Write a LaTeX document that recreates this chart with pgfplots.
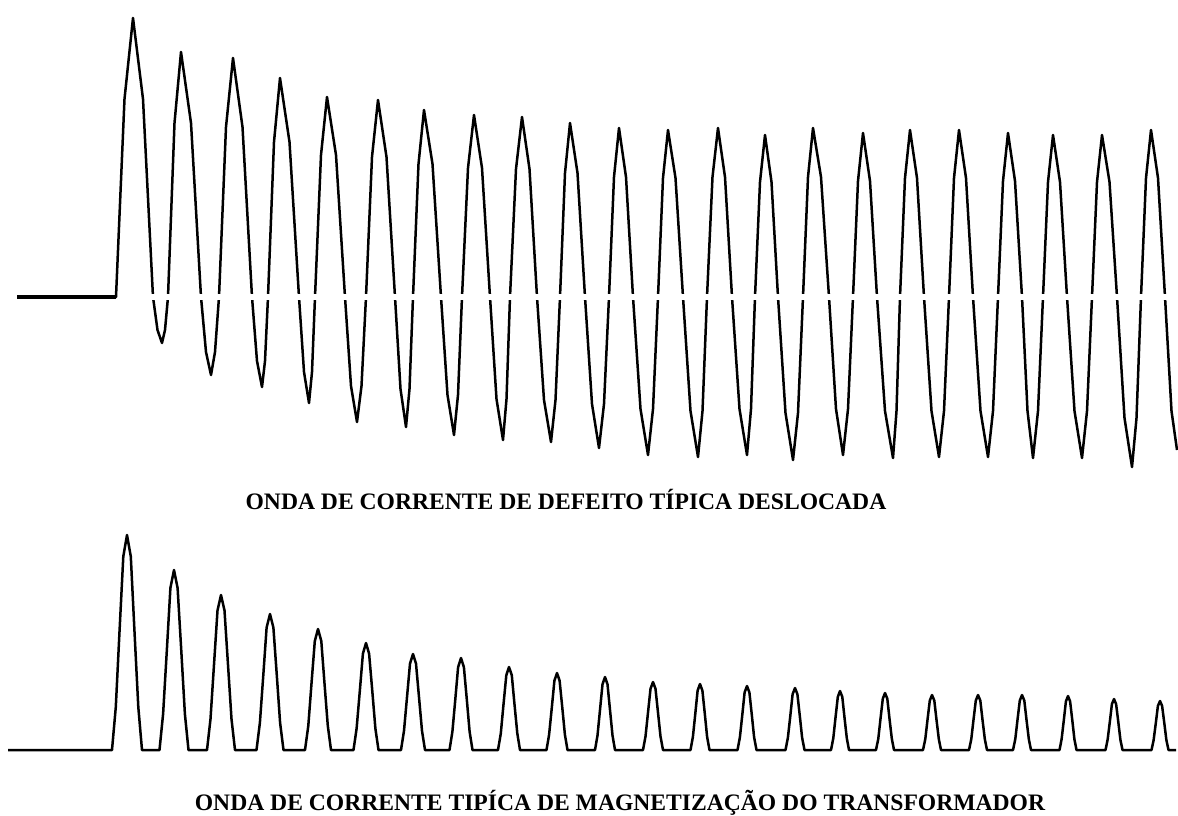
\documentclass[border=0pt]{standalone}
\usepackage{pgfplots}
\pgfplotsset{compat=1.18}
\usepackage{fontspec}
\setmainfont{Liberation Serif}
\begin{document}
\begin{tikzpicture}
\begin{axis}[name=ax, scale only axis, width=1178pt, height=816pt,
  xmin=0, xmax=1178, ymin=0, ymax=816, y dir=reverse, hide axis, clip=false]
% top: displaced fault current (pixel rows, baseline 297)
\addplot[black, line width=2.5pt, line join=round] coordinates {
(17,297) (116,297)
(124.5,99) (133,18) (143,99) (153,297) (157.5,330) (162,343) (165,330)
(168,297) (174.5,123) (181,52) (191,123) (201,297) (206,352) (211,375) (215,352)
(219,297) (226,127) (233,58) (242.5,127) (252,297) (257,361) (262,387) (265,361)
(268,297) (274,142) (280,78) (289.5,142) (299,297) (304,372) (309,403) (312,372)
(315,297) (321,155) (327,97) (336,155) (345,297) (351,386) (357,422) (361.5,386)
(366,297) (372,157) (378,100) (386.5,157) (395,297) (400.5,389) (406,427) (409.5,389)
(413,297) (418.5,164) (424,110) (432.5,164) (441,297) (447.5,395) (454,435) (458,395)
(462,297) (468,168) (474,115) (482,168) (490,297) (496.5,399) (503,440) (506.5,399)
(510,297) (516,169) (522,117) (529.5,169) (537,297) (544,400) (551,442) (555.5,400)
(560,297) (565,173) (570,123) (577.5,173) (585,297) (592,404) (599,448) (604,404)
(609,297) (614,177) (619,128) (626,177) (633,297) (640.5,409) (648,455) (653,409)
(658,297) (663,178) (668,130) (675.5,178) (683,297) (690.5,411) (698,457) (702.5,411)
(707,297) (712.5,177) (718,128) (725,177) (732,297) (739.5,409) (747,455) (751,409)
(755,297) (760,182) (765,135) (771.5,182) (778,297) (785.5,413) (793,460) (798,413)
(803,297) (808,177) (813,128) (821,177) (829,297) (836,409) (843,455) (848,409)
(853,297) (858,181) (863,133) (870,181) (877,297) (885,411) (893,458) (896.5,411)
(900,297) (905,178) (910,130) (917,178) (924,297) (931.5,411) (939,457) (944,411)
(949,297) (954,178) (959,130) (966,178) (973,297) (980.5,411) (988,457) (993,411)
(998,297) (1003,181) (1008,133) (1015,181) (1022,297) (1027.5,411) (1033,458) (1038,411)
(1043,297) (1048,182) (1053,135) (1060,182) (1067,297) (1074.5,411) (1082,458) (1087,411)
(1092,297) (1097,182) (1102,135) (1109.5,182) (1117,297) (1124.5,418) (1132,467) (1136.5,418)
(1141,297) (1146,178) (1151,130) (1158,178) (1165,297) (1171.5,411) (1177,450)
};
\addplot[black, line width=3.2pt] coordinates {(17,297) (116,297)};
\addplot[white, line width=5.5pt] coordinates {(120,297) (1178,297)};
% bottom: transformer magnetizing inrush current (pixel rows, baseline 750)
\addplot[black, line width=2.5pt, line join=round] coordinates {
(8,750) (112,750)
(115.8,707) (119.5,631.7) (123.3,556.5) (127,535) (130.8,556.5) (134.5,631.7) (138.3,707) (142,750)
(159.5,750) (163.1,714) (166.8,651) (170.4,588) (174,570) (177.6,588) (181.3,651) (184.9,714) (188.5,750)
(207,750) (210.5,719) (214,664.7) (217.5,610.5) (221,595) (224.5,610.5) (228,664.7) (231.5,719) (235,750)
(256.5,750) (259.9,722.8) (263.3,675.2) (266.6,627.6) (270,614) (273.4,627.6) (276.8,675.2) (280.1,722.8) (283.5,750)
(305,750) (308.3,725.8) (311.5,683.4) (314.8,641.1) (318,629) (321.3,641.1) (324.5,683.4) (327.8,725.8) (331,750)
(353.5,750) (356.6,728.6) (359.8,691.1) (362.9,653.7) (366,643) (369.1,653.7) (372.3,691.1) (375.4,728.6) (378.5,750)
(401,750) (404,730.8) (407,697.2) (410,663.6) (413,654) (416,663.6) (419,697.2) (422,730.8) (425,750)
(449.5,750) (452.4,731.6) (455.3,699.4) (458.1,667.2) (461,658) (463.9,667.2) (466.8,699.4) (469.6,731.6) (472.5,750)
(498,750) (500.8,733.4) (503.5,704.4) (506.3,675.3) (509,667) (511.8,675.3) (514.5,704.4) (517.3,733.4) (520,750)
(546.5,750) (549.1,734.6) (551.8,707.7) (554.4,680.7) (557,673) (559.6,680.7) (562.3,707.7) (564.9,734.6) (567.5,750)
(595,750) (597.5,735.4) (600,709.9) (602.5,684.3) (605,677) (607.5,684.3) (610,709.9) (612.5,735.4) (615,750)
(643,750) (645.5,736.4) (648,712.6) (650.5,688.8) (653,682) (655.5,688.8) (658,712.6) (660.5,736.4) (663,750)
(690.5,750) (692.9,736.8) (695.3,713.7) (697.6,690.6) (700,684) (702.4,690.6) (704.8,713.7) (707.1,736.8) (709.5,750)
(737.5,750) (739.9,737.2) (742.3,714.8) (744.6,692.4) (747,686) (749.4,692.4) (751.8,714.8) (754.1,737.2) (756.5,750)
(785.5,750) (787.9,737.6) (790.3,715.9) (792.6,694.2) (795,688) (797.4,694.2) (799.8,715.9) (802.1,737.6) (804.5,750)
(831,750) (833.3,738.2) (835.5,717.6) (837.8,696.9) (840,691) (842.3,696.9) (844.5,717.6) (846.8,738.2) (849,750)
(876,750) (878.3,738.6) (880.5,718.7) (882.8,698.7) (885,693) (887.3,698.7) (889.5,718.7) (891.8,738.6) (894,750)
(923,750) (925.3,739) (927.5,719.8) (929.8,700.5) (932,695) (934.3,700.5) (936.5,719.8) (938.8,739) (941,750)
(969,750) (971.3,739) (973.5,719.8) (975.8,700.5) (978,695) (980.3,700.5) (982.5,719.8) (984.8,739) (987,750)
(1013,750) (1015.3,739) (1017.5,719.8) (1019.8,700.5) (1022,695) (1024.3,700.5) (1026.5,719.8) (1028.8,739) (1031,750)
(1059.5,750) (1061.6,739.2) (1063.8,720.3) (1065.9,701.4) (1068,696) (1070.1,701.4) (1072.3,720.3) (1074.4,739.2) (1076.5,750)
(1105.5,750) (1107.6,739.8) (1109.8,722) (1111.9,704.1) (1114,699) (1116.1,704.1) (1118.3,722) (1120.4,739.8) (1122.5,750)
(1151.5,750) (1153.6,740.2) (1155.8,723.1) (1157.9,705.9) (1160,701) (1162.1,705.9) (1164.3,723.1) (1166.4,740.2) (1168.5,750) (1176,750)
};
\node[anchor=base, inner sep=0pt, font=\bfseries\fontsize{23.6}{28}\selectfont] at (axis cs:566,509) {ONDA DE CORRENTE DE DEFEITO TÍPICA DESLOCADA};
\node[anchor=base, inner sep=0pt, font=\bfseries\fontsize{23.6}{28}\selectfont] at (axis cs:620,810) {ONDA DE CORRENTE TIPÍCA DE MAGNETIZAÇÃO DO TRANSFORMADOR};
\end{axis}
\pgfresetboundingbox
\path (ax.south west) rectangle (ax.north east);
\end{tikzpicture}
\end{document}
